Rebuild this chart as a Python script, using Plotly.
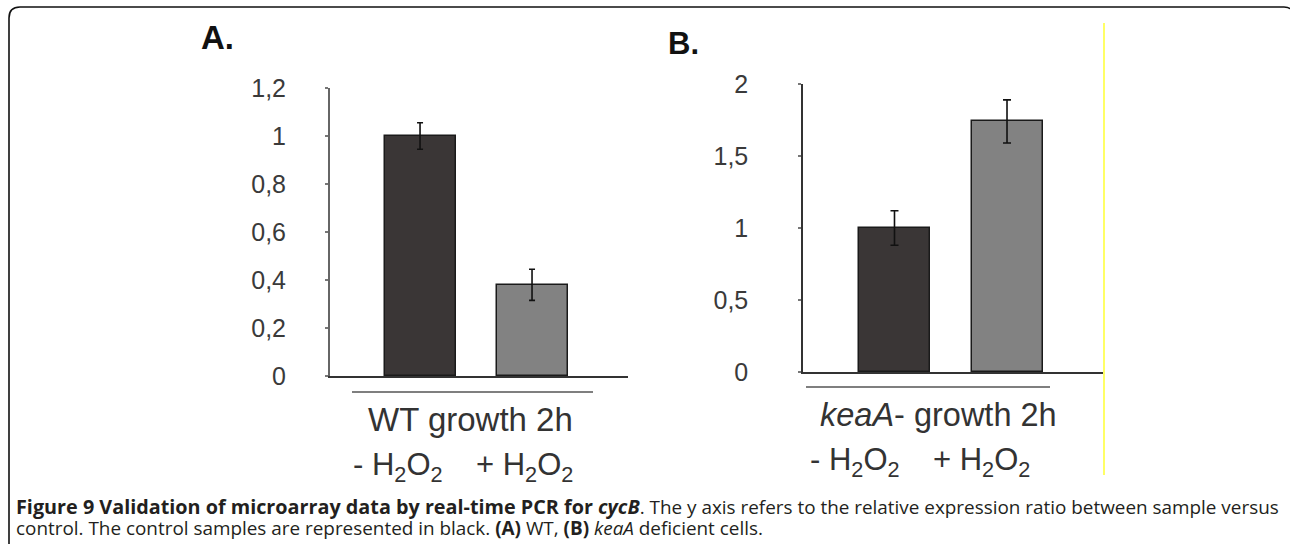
import plotly.graph_objects as go

W, H = 1290, 544

# ---- data ----
conditions = ["- H2O2", "+ H2O2"]
wt_values = [1.0, 0.38]
wt_errors = [0.055, 0.065]
kea_values = [1.0, 1.74]
kea_errors = [0.12, 0.15]
bar_colors = ["#3a3636", "#828282"]

wt_ticks = [0, 0.2, 0.4, 0.6, 0.8, 1.0, 1.2]
wt_ticklabels = ["0", "0,2", "0,4", "0,6", "0,8", "1", "1,2"]
kea_ticks = [0, 0.5, 1.0, 1.5, 2.0]
kea_ticklabels = ["0", "0,5", "1", "1,5", "2"]

caption_line1 = ("<span style='font-size:19.8px'><b>Figure 9 Validation of microarray data by "
                 "real-time PCR for <i>cycB</i></b></span>. "
                 "The y axis refers to the relative expression ratio between sample versus")
caption_line2 = ("control. The control samples are represented in black. <b>(A)</b> WT, "
                 "<b>(B)</b> <i>keaA</i> deficient cells.")


def px(x):
    return x / W


def py(y):
    return 1 - y / H


fig = go.Figure()

# Panel A
fig.add_trace(go.Bar(
    x=[0, 1], y=wt_values, width=0.634,
    marker=dict(color=bar_colors, line=dict(color="#1a1a1a", width=1.5)),
    error_y=dict(type="data", array=wt_errors, color="#111", thickness=1.6, width=3),
    xaxis="x", yaxis="y", showlegend=False, hoverinfo="skip",
))
# Panel B
fig.add_trace(go.Bar(
    x=[0, 1], y=kea_values, width=0.631,
    marker=dict(color=bar_colors, line=dict(color="#1a1a1a", width=1.5)),
    error_y=dict(type="data", array=kea_errors, color="#111", thickness=1.6, width=4),
    xaxis="x2", yaxis="y2", showlegend=False, hoverinfo="skip",
))

tickfont = dict(family="Liberation Sans, Arial, sans-serif", size=25, color="#3a3a3a")

fig.update_layout(
    template="none",
    width=W, height=H, autosize=False,
    margin=dict(l=0, r=0, t=0, b=0, pad=0, autoexpand=False),
    paper_bgcolor="white", plot_bgcolor="white",
    bargap=0,
    xaxis=dict(domain=[px(330), px(628)], range=[-0.804, 1.857], automargin=False,
               showticklabels=False, ticks="", showgrid=False, zeroline=False,
               showline=True, linecolor="#333", linewidth=2, anchor="y", fixedrange=True),
    yaxis=dict(domain=[py(376), py(88)], range=[0, 1.2], automargin=False,
               tickvals=wt_ticks, ticktext=wt_ticklabels, tickfont=tickfont,
               ticks="outside", ticklen=3, tickcolor="#777", tickwidth=1.5,
               ticklabelstandoff=34,
               showgrid=False, zeroline=False, showline=True,
               linecolor="#666", linewidth=2, anchor="x", fixedrange=True),
    xaxis2=dict(domain=[px(803), px(1103)], range=[-0.813, 1.853], automargin=False,
                showticklabels=False, ticks="", showgrid=False, zeroline=False,
                showline=True, linecolor="#333", linewidth=2, anchor="y2", fixedrange=True),
    yaxis2=dict(domain=[py(372), py(84)], range=[0, 2], automargin=False,
                tickvals=kea_ticks, ticktext=kea_ticklabels, tickfont=tickfont,
                ticks="outside", ticklen=3, tickcolor="#777", tickwidth=1.5,
                ticklabelstandoff=45,
                showgrid=False, zeroline=False, showline=True,
                linecolor="#333", linewidth=1.5, anchor="x2", fixedrange=True),
)

lab = dict(family="Liberation Sans, Arial, sans-serif", color="#333")
ann = []


def text(x, y, t, size, bold=False, xanchor="center", family=None, color=None):
    f = dict(lab)
    f["size"] = size
    if family:
        f["family"] = family
    if color:
        f["color"] = color
    if bold:
        f["weight"] = "bold"
    ann.append(dict(x=px(x), y=py(y), xref="paper", yref="paper", text=t,
                    showarrow=False, xanchor=xanchor, yanchor="middle", font=f))


h2o2 = "H<sub>2</sub>O<sub>2</sub>"
text(217, 38, "A.", 33, bold=True, color="#111")
text(683, 43, "B.", 31, bold=True, color="#111")
text(470, 419, "WT growth 2h", 33)
text(398, 467, "- " + h2o2, 31)
text(524, 467, "+ " + h2o2, 31)
text(938, 415, "<i>keaA</i>- growth 2h", 32.5)
text(855, 462, "- " + h2o2, 31)
text(981, 462, "+ " + h2o2, 31)

cap_font = "Open Sans, Noto Sans, sans-serif"
text(14, 506, caption_line1, 18.9, xanchor="left", family=cap_font, color="#231f20")
text(14, 528, caption_line2, 18.9, xanchor="left", family=cap_font, color="#231f20")

fig.update_layout(annotations=ann)

shapes = [
    # separators under the bars
    dict(type="line", xref="paper", yref="paper", x0=px(352), x1=px(593), y0=py(392), y1=py(392),
         line=dict(color="#555", width=1.5)),
    dict(type="line", xref="paper", yref="paper", x0=px(806), x1=px(1050), y0=py(387), y1=py(387),
         line=dict(color="#555", width=1.5)),
    # yellow edge line
    dict(type="line", xref="paper", yref="paper", x0=px(1104), x1=px(1104), y0=py(23), y1=py(475),
         line=dict(color="#ffff66", width=2)),
    # rounded figure frame
    dict(type="path", xref="paper", yref="paper",
         path=(f"M {px(9)},{py(548)} L {px(9)},{py(18)} Q {px(9)},{py(7)} {px(20)},{py(7)} "
               f"L {px(1284)},{py(7)} Q {px(1289)},{py(7)} {px(1290)},{py(9)}"),
         line=dict(color="#111", width=1.6)),
]
fig.update_layout(shapes=shapes)

fig.write_html("out.html", config={"displayModeBar": False},
               post_script="document.body.style.margin='0px';")
